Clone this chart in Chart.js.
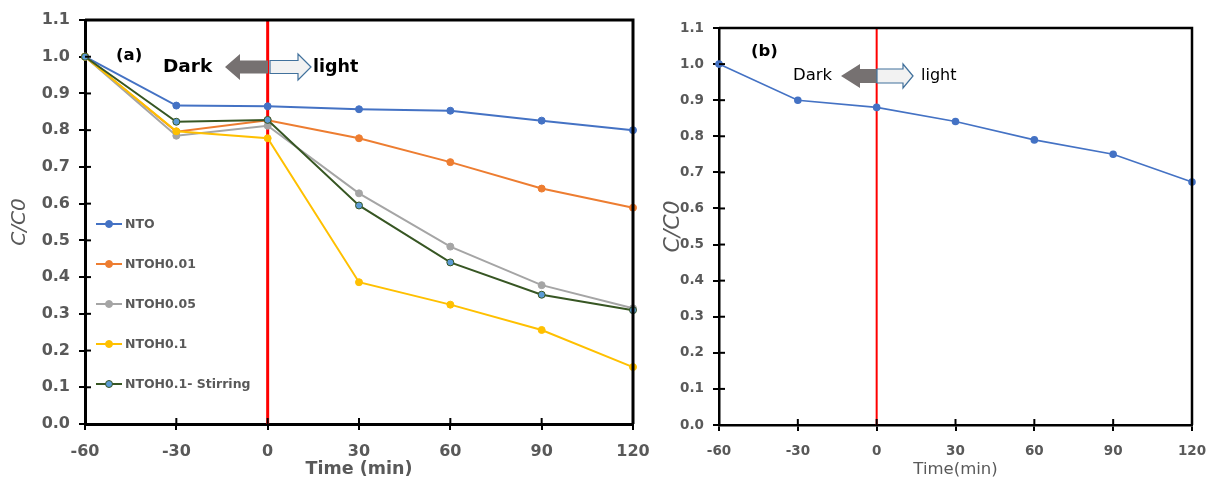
<!DOCTYPE html>
<html>
<head>
<meta charset="utf-8">
<script src="https://cdn.jsdelivr.net/npm/chart.js@4"></script>
<style>
	body { margin: 0; background: #fff; }
	#wrap { position: relative; width: 1210px; height: 481px; }
	#chart_a { position: absolute; left: 0; top: 0; }
	#chart_b { position: absolute; left: 660px; top: 0; }
</style>
</head>
<body>
<div id="wrap">
	<canvas id="chart_a" width="655" height="481"></canvas>
	<canvas id="chart_b" width="550" height="481"></canvas>
</div>
<script>
// time axis (min)
var times = [-60, -30, 0, 30, 60, 90, 120];

// panel (a) C/C0
var nto = [1.0, 0.867, 0.865, 0.857, 0.853, 0.826, 0.800];
var ntoh001 = [1.0, 0.796, 0.827, 0.778, 0.713, 0.641, 0.589];
var ntoh005 = [1.0, 0.785, 0.812, 0.628, 0.483, 0.378, 0.315];
var ntoh01 = [1.0, 0.797, 0.778, 0.386, 0.325, 0.256, 0.155];
var ntoh01_stir = [1.0, 0.823, 0.828, 0.595, 0.440, 0.352, 0.310];

// panel (b) C/C0
var panel_b = [1.0, 0.900, 0.880, 0.841, 0.790, 0.750, 0.673];

var gray_text = '#595959';
var face = '"DejaVu Sans"';

function pts(values) {
	return values.map(function (v, i) {
		return { x: times[i], y: v };
	});
}

function arrow(ctx, tip, base, end, cy, head, body, fill, stroke) {
	// tip/base/end are x positions along the arrow, head/body are half heights
	ctx.beginPath();
	ctx.moveTo(tip, cy);
	ctx.lineTo(base, cy - head);
	ctx.lineTo(base, cy - body);
	ctx.lineTo(end, cy - body);
	ctx.lineTo(end, cy + body);
	ctx.lineTo(base, cy + body);
	ctx.lineTo(base, cy + head);
	ctx.closePath();
	ctx.fillStyle = fill;
	ctx.fill();
	if (stroke) {
		ctx.strokeStyle = stroke;
		ctx.lineWidth = 1.2;
		ctx.stroke();
	}
}

function frame_plugin(opts) {
	return {
		id: 'frame',
		beforeDatasetsDraw: function (chart) {
			var ctx = chart.ctx;
			var a = chart.chartArea;
			var x0 = chart.scales.x.getPixelForValue(0);
			ctx.save();
			ctx.strokeStyle = '#ff0000';
			ctx.lineWidth = opts.redWidth;
			ctx.beginPath();
			ctx.moveTo(x0, a.top);
			ctx.lineTo(x0, a.bottom);
			ctx.stroke();
			ctx.restore();
		},
		afterDraw: function (chart) {
			var ctx = chart.ctx;
			var a = chart.chartArea;
			ctx.save();
			ctx.strokeStyle = '#000';
			ctx.lineWidth = opts.frameWidth;
			ctx.beginPath();
			ctx.moveTo(a.left, a.top);
			ctx.lineTo(a.right, a.top);
			ctx.lineTo(a.right, a.bottom);
			ctx.stroke();

			// inner half of the cross ticks
			ctx.lineWidth = 2;
			chart.scales.y.ticks.forEach(function (t) {
				var y = chart.scales.y.getPixelForValue(t.value);
				ctx.beginPath();
				ctx.moveTo(a.left, y);
				ctx.lineTo(a.left + 6, y);
				ctx.stroke();
			});
			chart.scales.x.ticks.forEach(function (t) {
				var x = chart.scales.x.getPixelForValue(t.value);
				ctx.beginPath();
				ctx.moveTo(x, a.bottom);
				ctx.lineTo(x, a.bottom - 6);
				ctx.stroke();
			});

			var n = opts.note;
			ctx.fillStyle = '#000';
			ctx.textBaseline = 'middle';
			ctx.font = 'bold 16.5px ' + face;
			ctx.fillText(n.tag, n.tagX, n.tagY);
			ctx.font = n.darkFont;
			ctx.fillText('Dark', n.darkX, n.cy);
			ctx.font = n.lightFont;
			ctx.fillText('light', n.lightX, n.cy);
			arrow(ctx, n.a1[0], n.a1[1], n.a1[2], n.cy, n.head, n.body, '#767171', null);
			arrow(ctx, n.a2[0], n.a2[1], n.a2[2], n.cy, n.head, n.body, '#f2f2f2', '#41719c');

			if (opts.legend) {
				ctx.font = 'bold 12.5px ' + face;
				ctx.textBaseline = 'middle';
				chart.data.datasets.forEach(function (ds, i) {
					var y = opts.legend.y + i * opts.legend.gap;
					var lx = opts.legend.x;
					ctx.strokeStyle = ds.borderColor;
					ctx.lineWidth = 2;
					ctx.beginPath();
					ctx.moveTo(lx, y);
					ctx.lineTo(lx + 26, y);
					ctx.stroke();
					ctx.beginPath();
					ctx.arc(lx + 13, y, 3.5, 0, Math.PI * 2);
					ctx.fillStyle = ds.pointBackgroundColor;
					ctx.fill();
					ctx.lineWidth = 1;
					ctx.stroke();
					ctx.fillStyle = gray_text;
					ctx.fillText(ds.label, lx + 29, y + 1);
				});
			}
			ctx.restore();
		}
	};
}

function make_scales(o) {
	return {
		x: {
			type: 'linear',
			min: -60,
			max: 120,
			afterFit: function (s) {
				s.height = o.xHeight;
				s.paddingLeft = 0;
				s.paddingRight = 0;
			},
			ticks: {
				stepSize: 30,
				padding: 12,
				color: gray_text,
				font: { family: face, size: o.tickSize, weight: 'bold' }
			},
			grid: { drawOnChartArea: false, color: '#000', lineWidth: 2, tickLength: 6 },
			border: { color: '#000', width: o.frameWidth },
			title: {
				display: true,
				text: o.xTitle,
				color: gray_text,
				padding: { top: 0, bottom: 1 },
				font: { family: face, size: o.xTitleSize, weight: o.titleWeight }
			}
		},
		y: {
			min: 0,
			max: 1.1,
			afterFit: function (s) {
				s.width = o.yWidth;
				s.paddingTop = 0;
				s.paddingBottom = 0;
			},
			ticks: {
				stepSize: 0.1,
				padding: 9,
				color: gray_text,
				font: { family: face, size: o.tickSize, weight: 'bold' },
				callback: function (v) { return v.toFixed(1); }
			},
			grid: { drawOnChartArea: false, color: '#000', lineWidth: 2, tickLength: 6 },
			border: { color: '#000', width: o.frameWidth },
			title: {
				display: true,
				text: 'C/C0',
				color: gray_text,
				padding: { top: o.yTitlePad, bottom: 0 },
				font: { family: face, size: o.yTitleSize, style: 'italic' }
			}
		}
	};
}

function series(label, values, line, fill, order) {
	return {
		label: label,
		data: pts(values),
		borderColor: line,
		backgroundColor: fill,
		pointBackgroundColor: fill,
		pointBorderColor: line,
		pointBorderWidth: 1,
		pointRadius: 3.5,
		borderWidth: 2,
		clip: false,
		order: order
	};
}

function draw() {
	new Chart(document.getElementById('chart_a').getContext('2d'), {
		type: 'line',
		data: {
			datasets: [
				series('NTO', nto, '#4472c4', '#4472c4', 5),
				series('NTOH0.01', ntoh001, '#ed7d31', '#ed7d31', 4),
				series('NTOH0.05', ntoh005, '#a5a5a5', '#a5a5a5', 3),
				series('NTOH0.1', ntoh01, '#ffc000', '#ffc000', 2),
				series('NTOH0.1- Stirring', ntoh01_stir, '#375623', '#5b9bd5', 1)
			]
		},
		options: {
			responsive: false,
			animation: false,
			layout: { padding: { top: 20, right: 22, left: 0, bottom: 0 } },
			plugins: { legend: { display: false }, tooltip: { enabled: false } },
			scales: make_scales({
				xHeight: 57, yWidth: 85, frameWidth: 3, tickSize: 16,
				titleWeight: 'bold', xTitle: 'Time (min)', xTitleSize: 17.5,
				yTitleSize: 20, yTitlePad: 8
			})
		},
		plugins: [frame_plugin({
			redWidth: 3,
			frameWidth: 3,
			note: {
				tag: '(a)', tagX: 116, tagY: 56,
				darkFont: 'bold 18.5px ' + face, lightFont: 'bold 17.5px ' + face,
				darkX: 163, lightX: 313, cy: 67,
				a1: [225, 240, 268], a2: [311, 298, 270], head: 13, body: 6.5
			},
			legend: { x: 96, y: 224, gap: 40 }
		})]
	});

	new Chart(document.getElementById('chart_b').getContext('2d'), {
		type: 'line',
		data: {
			datasets: [
				{
					label: 'b',
					data: pts(panel_b),
					borderColor: '#4472c4',
					backgroundColor: '#4472c4',
					pointRadius: 3,
					borderWidth: 1.6,
					clip: false
				}
			]
		},
		options: {
			responsive: false,
			animation: false,
			layout: { padding: { top: 28, right: 18, left: 0, bottom: 0 } },
			plugins: { legend: { display: false }, tooltip: { enabled: false } },
			scales: make_scales({
				xHeight: 56, yWidth: 59, frameWidth: 2.5, tickSize: 13.5,
				titleWeight: 'normal', xTitle: 'Time(min)', xTitleSize: 16.5,
				yTitleSize: 22, yTitlePad: 0
			})
		},
		plugins: [frame_plugin({
			redWidth: 2,
			frameWidth: 2.5,
			note: {
				tag: '(b)', tagX: 91, tagY: 52,
				darkFont: '16.5px ' + face, lightFont: '16px ' + face,
				darkX: 133, lightX: 261, cy: 76,
				a1: [181, 200, 217], a2: [253, 243, 217], head: 12, body: 7
			},
			legend: null
		})]
	});
}

window.onload = function () {
	draw();
};
</script>
</body>
</html>
